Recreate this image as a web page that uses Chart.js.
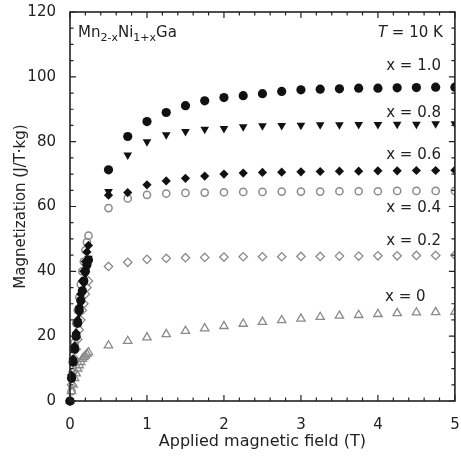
<!DOCTYPE html>
<html>
<head>
<meta charset="utf-8">
<script src="https://cdn.jsdelivr.net/npm/chart.js@4.4.1/dist/chart.umd.min.js"></script>
<style>
  html, body { margin: 0; padding: 0; background: #fff; }
  #wrap { width: 461px; height: 457px; }
</style>
</head>
<body>
<div id="wrap"><canvas id="mag-chart"></canvas></div>
<script>
// applied field (T): dense low-field sweep, then every 0.25 T
const fields = [0, 0.02, 0.04, 0.06, 0.08, 0.1, 0.12, 0.14, 0.16, 0.18, 0.2, 0.22, 0.24,
  0.5, 0.75, 1.0, 1.25, 1.5, 1.75, 2.0, 2.25, 2.5, 2.75, 3.0, 3.25, 3.5, 3.75, 4.0, 4.25, 4.5, 4.75, 5.0];

// magnetization (J/T·kg) per composition
const magX10 = [0, 7, 12, 16, 20, 24, 28, 31, 34, 37, 40, 42, 43.5,
  71.3, 81.6, 86.2, 89.0, 91.1, 92.6, 93.6, 94.2, 94.8, 95.5, 96.0, 96.2, 96.3, 96.5, 96.5, 96.6, 96.7, 96.8, 96.8];
const magX08 = [0, 7, 12, 16, 20, 24, 27, 30, 33, 36, 39, 41, 44,
  64.6, 75.9, 80.0, 82.1, 83.1, 83.8, 84.1, 84.6, 84.9, 85.0, 85.1, 85.2, 85.2, 85.3, 85.3, 85.4, 85.4, 85.5, 85.5];
const magX06 = [0, 8, 13, 17, 21, 25, 29, 33, 37, 40, 43, 46, 48,
  63.5, 64.3, 66.7, 67.9, 68.7, 69.4, 70.0, 70.3, 70.5, 70.6, 70.7, 70.8, 70.9, 70.9, 71.0, 71.0, 71.1, 71.1, 71.2];
const magX04 = [0, 3, 9, 18, 24, 28, 32, 36, 40, 43, 46.5, 49, 51,
  59.5, 62.5, 63.6, 64.0, 64.2, 64.3, 64.4, 64.5, 64.5, 64.6, 64.6, 64.6, 64.7, 64.7, 64.7, 64.8, 64.8, 64.8, 64.8];
const magX02 = [0, 5, 9, 13, 16, 19, 22, 25, 28, 30, 33, 35, 37,
  41.5, 42.8, 43.7, 44.0, 44.2, 44.3, 44.4, 44.5, 44.5, 44.5, 44.6, 44.6, 44.7, 44.7, 44.8, 44.8, 44.9, 44.9, 45.0];
const magX00 = [0, 3, 5, 7, 8.5, 10, 11, 12, 13, 13.5, 14, 14.5, 15,
  17.1, 18.5, 19.6, 20.6, 21.6, 22.4, 23.1, 23.8, 24.4, 24.9, 25.4, 25.9, 26.3, 26.5, 26.8, 27.1, 27.3, 27.4, 27.5];

const seriesNames = ['x = 1.0', 'x = 0.8', 'x = 0.6', 'x = 0.4', 'x = 0.2', 'x = 0'];

const xTicks = [0, 1, 2, 3, 4, 5];
const yTicks = [0, 20, 40, 60, 80, 100, 120];

const FONT = '"DejaVu Sans", sans-serif';
const INK = '#222';
const GRAY = '#8a8a8a';

function pts(vals) {
  return vals.map((v, i) => ({ x: fields[i], y: v }));
}

function series(name, vals, style) {
  return Object.assign({
    label: name,
    data: pts(vals),
    showLine: false,
    clip: { left: 8, top: 8, right: 0, bottom: 8 }
  }, style);
}

// frame, inward ticks on four sides, and the text in the plot
const frameTicks = {
  id: 'frameTicks',
  afterDraw(chart) {
    const { ctx, chartArea: a, scales: { x, y } } = chart;
    ctx.save();
    ctx.strokeStyle = INK;
    ctx.lineWidth = 1.6;
    ctx.strokeRect(a.left, a.top, a.right - a.left, a.bottom - a.top);

    ctx.lineWidth = 1.2;
    ctx.beginPath();
    for (let k = 0; k <= 25; k++) {
      const v = k * 0.2;
      const px = x.getPixelForValue(v);
      const len = k % 5 === 0 ? 6 : 3.5;
      ctx.moveTo(px, a.bottom); ctx.lineTo(px, a.bottom - len);
      ctx.moveTo(px, a.top); ctx.lineTo(px, a.top + len);
    }
    for (let v = 0; v <= 120; v += 5) {
      const py = y.getPixelForValue(v);
      const len = v % 20 === 0 ? 6 : 3.5;
      ctx.moveTo(a.left, py); ctx.lineTo(a.left + len, py);
      ctx.moveTo(a.right, py); ctx.lineTo(a.right - len, py);
    }
    ctx.stroke();

    ctx.fillStyle = INK;
    ctx.textBaseline = 'alphabetic';

    // formula with subscripts
    const parts = [['Mn', 0], ['2-x', 1], ['Ni', 0], ['1+x', 1], ['Ga', 0]];
    let cx = a.left + 8;
    const base = a.top + 25;
    parts.forEach(([t, sub]) => {
      ctx.font = (sub ? '11px ' : '15px ') + FONT;
      ctx.fillText(t, cx, sub ? base + 4 : base);
      cx += ctx.measureText(t).width;
    });

    // temperature, italic T
    ctx.font = '15px ' + FONT;
    const rest = ' = 10 K';
    const restW = ctx.measureText(rest).width;
    ctx.textAlign = 'left';
    const rx = a.right - 12 - restW;
    ctx.fillText(rest, rx, base);
    ctx.font = 'italic 15px ' + FONT;
    ctx.textAlign = 'right';
    ctx.fillText('T', rx, base);

    // composition labels
    ctx.font = '15px ' + FONT;
    ctx.textAlign = 'right';
    ctx.textBaseline = 'middle';
    const labelAt = [[4.82, 103.2], [4.82, 88.9], [4.82, 75.9], [4.82, 59.6], [4.82, 49.2], [4.62, 32.1]];
    seriesNames.forEach((t, i) => {
      ctx.fillText(t, x.getPixelForValue(labelAt[i][0]), y.getPixelForValue(labelAt[i][1]));
    });
    ctx.restore();
  }
};

new Chart(document.getElementById('mag-chart'), {
  type: 'scatter',
  data: {
    datasets: [
      series(seriesNames[0], magX10, { pointStyle: 'circle', pointRadius: 4.6, backgroundColor: '#111', borderColor: '#111', borderWidth: 0 }),
      series(seriesNames[1], magX08, { pointStyle: 'triangle', rotation: 180, pointRadius: 5, backgroundColor: '#111', borderColor: '#111', borderWidth: 0 }),
      series(seriesNames[2], magX06, { pointStyle: 'rectRot', pointRadius: 4.6, backgroundColor: '#111', borderColor: '#111', borderWidth: 0 }),
      series(seriesNames[3], magX04, { pointStyle: 'circle', pointRadius: 3.6, backgroundColor: 'rgba(0,0,0,0)', borderColor: GRAY, borderWidth: 1.5 }),
      series(seriesNames[4], magX02, { pointStyle: 'rectRot', pointRadius: 4.2, backgroundColor: 'rgba(0,0,0,0)', borderColor: GRAY, borderWidth: 1.3 }),
      series(seriesNames[5], magX00, { pointStyle: 'triangle', pointRadius: 4.8, backgroundColor: 'rgba(0,0,0,0)', borderColor: GRAY, borderWidth: 1.3 })
    ]
  },
  options: {
    responsive: true,
    maintainAspectRatio: false,
    animation: false,
    layout: { padding: { top: 12, right: 4, left: 0, bottom: 0 } },
    plugins: {
      legend: { display: false },
      tooltip: { enabled: false }
    },
    scales: {
      x: {
        type: 'linear',
        min: 0,
        max: 5,
        afterBuildTicks: (s) => { s.ticks = xTicks.map(v => ({ value: v })); },
        afterFit: (s) => { s.height = 56; s.paddingLeft = 0; s.paddingRight = 0; },
        grid: { display: false },
        border: { display: false },
        ticks: { color: INK, font: { family: FONT, size: 15 }, padding: 7, maxRotation: 0 },
        title: { display: true, text: 'Applied magnetic field (T)', color: INK, font: { family: FONT, size: 16 }, padding: { top: 0, bottom: 6 } }
      },
      y: {
        min: 0,
        max: 120,
        afterBuildTicks: (s) => { s.ticks = yTicks.map(v => ({ value: v })); },
        afterFit: (s) => { s.width = 70; s.paddingTop = 0; s.paddingBottom = 0; },
        grid: { display: false },
        border: { display: false },
        ticks: { color: INK, font: { family: FONT, size: 15 }, padding: 6 },
        title: { display: true, text: 'Magnetization (J/T·kg)', color: INK, font: { family: FONT, size: 15 }, padding: { top: 12, bottom: 0 } }
      }
    }
  },
  plugins: [frameTicks]
});
</script>
</body>
</html>
